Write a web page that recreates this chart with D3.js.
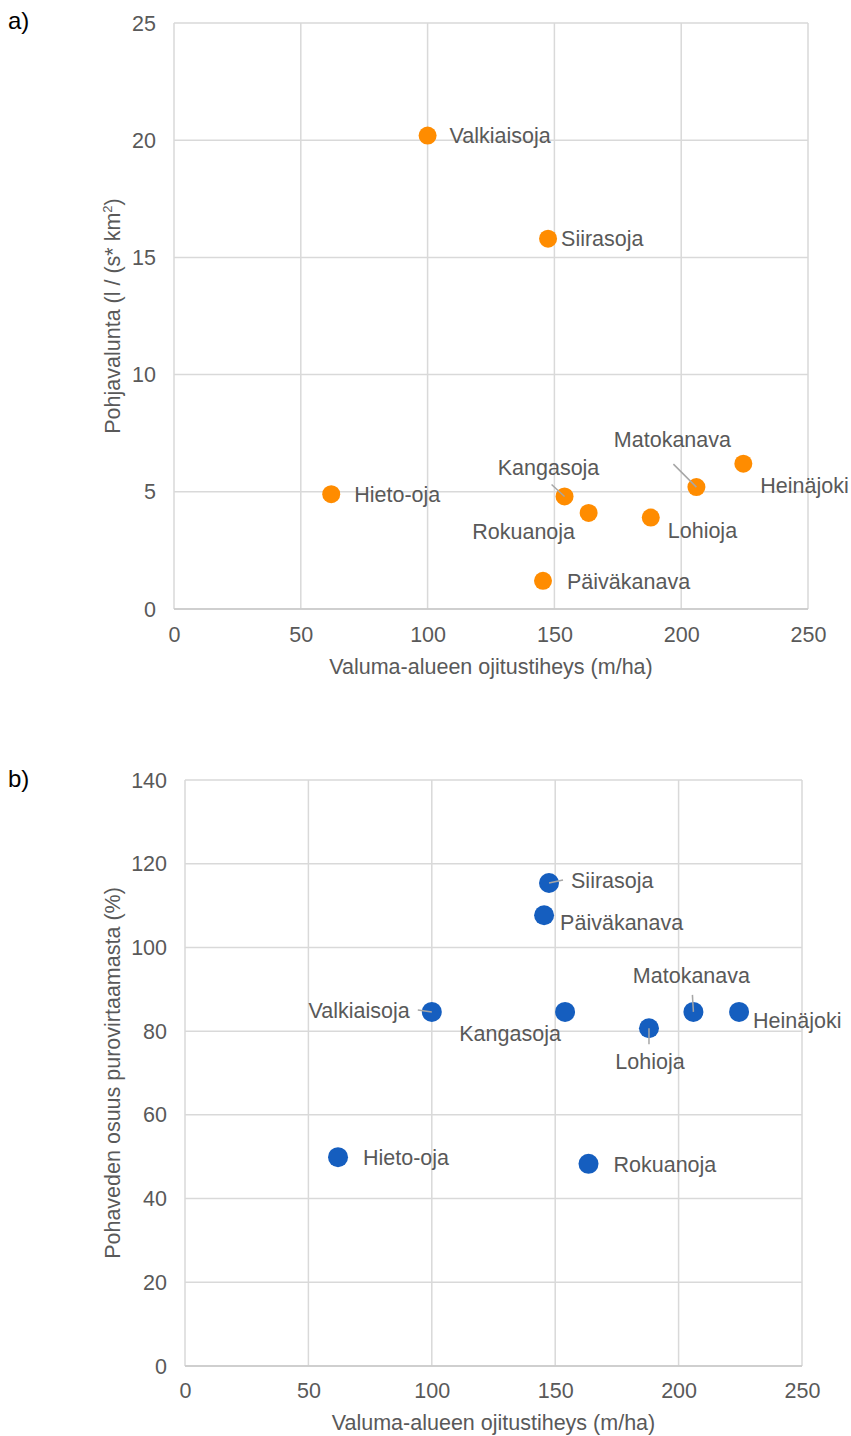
<!DOCTYPE html>
<html>
<head>
<meta charset="utf-8">
<script src="https://cdn.jsdelivr.net/npm/d3@7/dist/d3.min.js"></script>
<style>
  html, body { margin: 0; padding: 0; background: #fff; }
  svg { display: block; font-family: "Liberation Sans", Arial, sans-serif; }
</style>
</head>
<body>
<svg id="chart" width="851" height="1436"></svg>
<script>
// Catchments (same order in every array)
const catchments = ["Hieto-oja", "Valkiaisoja", "Päiväkanava", "Siirasoja", "Kangasoja",
                    "Rokuanoja", "Lohioja", "Matokanava", "Heinäjoki"];
// Drainage density of the catchment (m/ha)
const drainageDensity = [62, 100, 145.5, 147.5, 154, 163.5, 188, 206, 224.5];
// a) Baseflow (l / (s* km²))
const baseflow = [4.9, 20.2, 1.2, 15.8, 4.8, 4.1, 3.9, 5.2, 6.2];
// b) Share of groundwater in stream flow (%)
const groundwaterShare = [49.9, 84.6, 107.7, 115.4, 84.6, 48.3, 80.7, 84.6, 84.6];

const xTicks = [0, 50, 100, 150, 200, 250];
const yTicksA = [0, 5, 10, 15, 20, 25];
const yTicksB = [0, 20, 40, 60, 80, 100, 120, 140];

const xTitle = "Valuma-alueen ojitustiheys (m/ha)";
const yTitleB = "Pohaveden osuus purovirtaamasta (%)";

const svg = d3.select("#chart");
const textColor = "#595959";
const gridColor = "#d9d9d9";
const fontSize = 21.5;

// Label placement relative to each point: [dx, dy, anchor, leader]
const labelLayoutA = {
  "Hieto-oja":   [23, 1, "start", null],
  "Valkiaisoja": [22, 0, "start", null],
  "Päiväkanava": [24, 1, "start", null],
  "Siirasoja":   [13, 0, "start", null],
  "Kangasoja":   [-16, -28, "middle", [-13, -12]],
  "Rokuanoja":   [-65, 19, "middle", null],
  "Lohioja":     [17, 13, "start", null],
  "Matokanava":  [-24, -47, "middle", [-23, -23]],
  "Heinäjoki":   [17, 22, "start", null]
};
const labelLayoutB = {
  "Hieto-oja":   [25, 1, "start", null],
  "Valkiaisoja": [-22, -1, "end", [-14, -2]],
  "Päiväkanava": [16, 8, "start", null],
  "Siirasoja":   [22, -2, "start", [14, -3]],
  "Kangasoja":   [-55, 22, "middle", null],
  "Rokuanoja":   [25, 1, "start", null],
  "Lohioja":     [1, 34, "middle", [0, 16]],
  "Matokanava":  [-2, -36, "middle", [-1, -17]],
  "Heinäjoki":   [14, 9, "start", null]
};

function drawPanel(opts) {
  const { letter, letterY, left, right, top, bottom, yMax, yTicks, values, color, radius,
          layout, yLabelNode, yTitleX, xTickY, xTitleY, yTickX } = opts;
  const x = d3.scaleLinear().domain([0, 250]).range([left, right]);
  const y = d3.scaleLinear().domain([0, yMax]).range([bottom, top]);
  const g = svg.append("g");

  // panel letter
  g.append("text").attr("x", 8).attr("y", letterY).attr("dominant-baseline", "central")
    .attr("font-size", 24).attr("fill", "#000").text(letter);

  // grid
  g.append("g").selectAll("line").data(xTicks).join("line")
    .attr("x1", d => x(d)).attr("x2", d => x(d)).attr("y1", top).attr("y2", bottom)
    .attr("stroke", gridColor).attr("stroke-width", 1.5);
  g.append("g").selectAll("line").data(yTicks).join("line")
    .attr("x1", left).attr("x2", right).attr("y1", d => y(d)).attr("y2", d => y(d))
    .attr("stroke", gridColor).attr("stroke-width", 1.5);
  // horizontal axis line
  g.append("line").attr("x1", left).attr("x2", right).attr("y1", bottom).attr("y2", bottom)
    .attr("stroke", "#c8c8c8").attr("stroke-width", 1.5);

  // tick labels via d3 axes
  const xAxis = d3.axisBottom(x).tickValues(xTicks).tickSize(0).tickPadding(0);
  const gx = g.append("g").attr("transform", `translate(0,${xTickY})`).call(xAxis);
  gx.select(".domain").remove();
  gx.selectAll("text").attr("font-size", fontSize).attr("fill", textColor)
    .attr("font-family", "Liberation Sans, Arial, sans-serif")
    .attr("dy", null).attr("y", 0).attr("dominant-baseline", "central");

  const yAxis = d3.axisLeft(y).tickValues(yTicks).tickSize(0).tickPadding(0);
  const gy = g.append("g").attr("transform", `translate(${yTickX},0)`).call(yAxis);
  gy.select(".domain").remove();
  gy.selectAll("text").attr("font-size", fontSize).attr("fill", textColor)
    .attr("font-family", "Liberation Sans, Arial, sans-serif")
    .attr("dy", null).attr("x", 0).attr("dominant-baseline", "central");

  // axis titles
  g.append("text").attr("x", (left + right) / 2).attr("y", xTitleY)
    .attr("text-anchor", "middle").attr("dominant-baseline", "central")
    .attr("font-size", fontSize).attr("fill", textColor).text(xTitle);
  const yt = g.append("text")
    .attr("transform", `translate(${yTitleX},${(top + bottom) / 2}) rotate(-90)`)
    .attr("text-anchor", "middle").attr("dominant-baseline", "central")
    .attr("font-size", fontSize).attr("fill", textColor);
  yLabelNode(yt);

  const pts = catchments.map((name, i) => ({ name, xv: drainageDensity[i], yv: values[i] }));
  const leaders = pts.filter(p => layout[p.name][3]);

  // points
  g.append("g").selectAll("circle").data(pts).join("circle")
    .attr("cx", p => x(p.xv)).attr("cy", p => y(p.yv)).attr("r", radius)
    .attr("fill", color);

  // leader lines from the labels into the markers
  g.append("g").selectAll("line").data(leaders).join("line")
    .attr("x1", p => x(p.xv)).attr("y1", p => y(p.yv))
    .attr("x2", p => x(p.xv) + layout[p.name][3][0])
    .attr("y2", p => y(p.yv) + layout[p.name][3][1])
    .attr("stroke", "#a6a6a6").attr("stroke-width", 1.5);

  // data labels
  g.append("g").selectAll("text").data(pts).join("text")
    .attr("x", p => x(p.xv) + layout[p.name][0])
    .attr("y", p => y(p.yv) + layout[p.name][1])
    .attr("text-anchor", p => layout[p.name][2])
    .attr("dominant-baseline", "central")
    .attr("font-size", fontSize).attr("fill", textColor)
    .text(p => p.name);
}

drawPanel({
  letter: "a)", letterY: 20,
  left: 174, right: 808, top: 23, bottom: 609,
  yMax: 25, yTicks: yTicksA, values: baseflow, color: "#FF8C00", radius: 9,
  layout: labelLayoutA,
  yLabelNode: t => {
    t.append("tspan").text("Pohjavalunta (l / (s* km");
    t.append("tspan").attr("font-size", 13).attr("dy", -6).text("2");
    t.append("tspan").attr("dy", 6).text(")");
  },
  yTitleX: 113, xTickY: 635, xTitleY: 667, yTickX: 156
});

drawPanel({
  letter: "b)", letterY: 778,
  left: 185, right: 802, top: 780, bottom: 1366,
  yMax: 140, yTicks: yTicksB, values: groundwaterShare, color: "#155EBF", radius: 10,
  layout: labelLayoutB,
  yLabelNode: t => t.text(yTitleB),
  yTitleX: 113, xTickY: 1391, xTitleY: 1423, yTickX: 167
});
</script>
</body>
</html>
